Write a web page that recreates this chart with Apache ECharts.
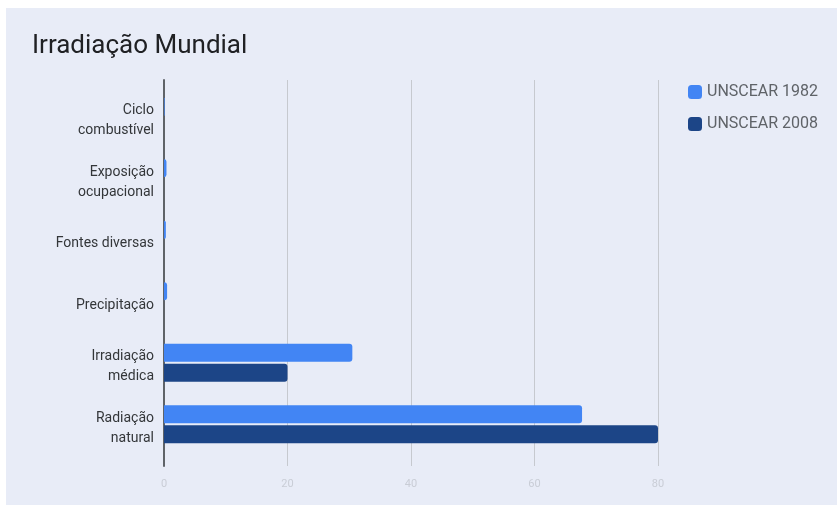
<!DOCTYPE html>
<html>
<head>
<meta charset="utf-8">
<script src="https://cdn.jsdelivr.net/npm/echarts@6/dist/echarts.min.js"></script>
<style>
  html, body { margin: 0; padding: 0; background: #ffffff; width: 837px; height: 505px; overflow: hidden; }
  #chart { position: absolute; left: 6px; top: 8px; width: 831px; height: 497px; }
</style>
</head>
<body>
<div id="chart"></div>
<script>
const title = 'Irradiação Mundial';
const categories = ['Ciclo\ncombustível', 'Exposição\nocupacional', 'Fontes diversas', 'Precipitação', 'Irradiação\nmédica', 'Radiação\nnatural'];
const seriesNames = ['UNSCEAR 1982', 'UNSCEAR 2008'];
const values1982 = [0.1, 0.4, 0.3, 0.5, 30.5, 67.7];
const values2008 = [0, 0, 0, 0, 20, 80];
const xTicks = [0, 20, 40, 60, 80];

const chart = echarts.init(document.getElementById('chart'), null, { renderer: 'canvas' });
const font = 'Roboto, "Noto Sans", sans-serif';
chart.setOption({
  backgroundColor: '#e8ecf7',
  animation: false,
  title: {
    text: title, left: 21, top: 20,
    textStyle: { fontFamily: font, fontSize: 26, fontWeight: 'normal', color: '#202124' }
  },
  legend: {
    orient: 'vertical', left: 677, top: 71,
    itemWidth: 14, itemHeight: 14, itemGap: 16,
    icon: 'roundRect',
    textStyle: { fontFamily: font, fontSize: 16, color: '#5f6368' },
    data: seriesNames
  },
  grid: [
    { left: 158, right: 179, top: 78, bottom: 50 },
    { left: 158, right: 179, top: 72, bottom: 39 }
  ],
  xAxis: [
    { gridIndex: 0, type: 'value', min: xTicks[0], max: xTicks[xTicks.length - 1], interval: 20,
      axisLine: { show: false }, axisTick: { show: false }, axisLabel: { show: false }, splitLine: { show: false } },
    { gridIndex: 1, type: 'value', min: xTicks[0], max: xTicks[xTicks.length - 1], interval: 20,
      axisLine: { show: false }, axisTick: { show: false },
      axisLabel: { color: '#c9cdd6', fontFamily: font, fontSize: 11, margin: 13 },
      splitLine: { show: true, lineStyle: { color: '#c6c9cf', width: 1 } } }
  ],
  yAxis: [
    { gridIndex: 0, type: 'category', data: categories, inverse: true,
      axisLine: { show: false }, axisTick: { show: false },
      axisLabel: {
        margin: 10, align: 'right',
        formatter: v => '{s| }\n' + v.split('\n').map(l => '{a|' + l + '}').join('\n'),
        rich: {
          s: { fontSize: 1, lineHeight: 8 },
          a: { color: '#333639', fontFamily: font, fontSize: 14, lineHeight: 20, align: 'right' }
        }
      } },
    { gridIndex: 1, type: 'value', min: 0, max: 1,
      axisLine: { show: true, onZero: false, lineStyle: { color: '#5f6368', width: 2 } },
      axisTick: { show: false }, axisLabel: { show: false }, splitLine: { show: false } }
  ],
  series: [
    { name: seriesNames[0], type: 'bar', xAxisIndex: 0, yAxisIndex: 0, data: values1982,
      barCategoryGap: '38%', barGap: '10%', z: 3,
      itemStyle: { color: '#4285f4', borderRadius: [0, 3, 3, 0] } },
    { name: seriesNames[1], type: 'bar', xAxisIndex: 0, yAxisIndex: 0, data: values2008,
      barCategoryGap: '38%', barGap: '10%', z: 3,
      itemStyle: { color: '#1c4587', borderRadius: [0, 3, 3, 0] } }
  ]
});
</script>
</body>
</html>
